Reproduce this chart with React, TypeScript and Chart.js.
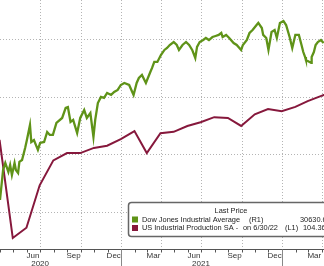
import React, { useEffect, useRef } from "react";
import { Chart, registerables } from "chart.js";

Chart.register(...registerables);

// Dow Jones Industrial Average (right axis, R1)
const djiaDates = [
  "2020-04-01","2020-04-08","2020-04-13","2020-04-20","2020-04-24","2020-04-28","2020-05-04","2020-05-07",
  "2020-05-12","2020-05-15","2020-05-21","2020-05-28","2020-06-01","2020-06-08","2020-06-11","2020-06-17",
  "2020-06-26","2020-07-01","2020-07-10","2020-07-17","2020-07-23","2020-07-30","2020-08-07","2020-08-20",
  "2020-08-28","2020-09-02","2020-09-08","2020-09-14","2020-09-23","2020-09-30","2020-10-09","2020-10-15",
  "2020-10-23","2020-10-30","2020-11-03","2020-11-09","2020-11-16","2020-11-23","2020-11-30","2020-12-09",
  "2020-12-16","2020-12-24","2020-12-31","2021-01-08","2021-01-19","2021-01-29","2021-02-05","2021-02-10",
  "2021-02-17","2021-02-26","2021-03-08","2021-03-12","2021-03-17","2021-03-24","2021-04-01","2021-04-09",
  "2021-04-15","2021-04-21","2021-04-30","2021-05-07","2021-05-12","2021-05-20","2021-05-28","2021-06-04",
  "2021-06-11","2021-06-18","2021-06-22","2021-06-28","2021-07-06","2021-07-12","2021-07-19","2021-07-27",
  "2021-08-03","2021-08-10","2021-08-16","2021-08-19","2021-08-27","2021-09-03","2021-09-13","2021-09-20",
  "2021-09-30","2021-10-04","2021-10-13","2021-10-19","2021-10-26","2021-11-04","2021-11-08","2021-11-16",
  "2021-11-19","2021-11-26","2021-12-01","2021-12-08","2021-12-15","2021-12-20","2021-12-27","2022-01-04",
  "2022-01-10","2022-01-18","2022-01-24","2022-01-31","2022-02-08","2022-02-14","2022-02-18","2022-02-22",
  "2022-02-24","2022-03-08","2022-03-09","2022-03-14","2022-03-18","2022-03-23","2022-03-30","2022-04-05",
];
const djiaValues = [
  21040,23640,24250,23470,24080,23210,24250,23640,
  23380,24340,24510,25550,26240,27540,26070,26240,
  25380,25980,26070,26940,26680,26680,27720,28150,
  29020,29100,27800,27980,26850,28150,28840,28150,
  28580,26500,27980,29450,29970,29890,30320,30150,
  30410,30580,31010,31190,31010,30150,31190,31620,
  31880,31190,32140,32490,33010,33010,33610,34050,
  34220,34480,34740,34480,34050,34480,34740,34480,
  34050,33350,34310,34740,34910,35090,34910,35170,
  35260,35350,35520,35170,35350,35090,34650,34480,
  34050,34480,34910,35520,35780,36210,36390,35950,
  35350,35090,34050,35610,35780,35090,36390,36560,
  36210,35170,34220,35350,35350,34480,33870,33440,
  33180,32920,33440,33870,34480,34740,34910,34650,
];

// US Industrial Production SA (left axis, L1), monthly
const ipDates = [
  "2020-03-31","2020-04-30","2020-05-31","2020-06-30","2020-07-31","2020-08-31","2020-09-30","2020-10-31",
  "2020-11-30","2020-12-31","2021-01-31","2021-02-28","2021-03-31","2021-04-30","2021-05-31","2021-06-30",
  "2021-07-31","2021-08-31","2021-09-30","2021-10-31","2021-11-30","2021-12-31","2022-01-31","2022-02-28",
  "2022-03-31","2022-04-30",
];
const ipValues = [
  97.9,84.5,85.9,91.7,95.1,96.1,96.1,96.8,
  97.1,98.0,99.1,96.1,98.8,99.0,99.8,100.3,
  101.0,100.9,99.8,101.4,102.1,101.8,102.4,103.2,
  103.9,104.6,
];

// Axis labels / grid
const monthLabels = ["Jun","Sep","Dec","Mar","Jun","Sep","Dec","Mar"];
const monthLabelDates = ["2020-06-15","2020-09-15","2020-12-15","2021-03-15","2021-06-15","2021-09-15","2021-12-15","2022-03-15"];
const yearLabels = ["2020","2021"];
const yearLabelDates = ["2020-07-01","2021-07-01"];
const yearBoundaryDates = ["2021-01-01","2022-01-01"];
const gridDates = ["2020-07-01","2020-10-01","2021-01-01","2021-04-01","2021-07-01","2021-10-01","2022-01-01","2022-04-01"];
const djiaGrid = [20000, 25000, 30000, 35000];

const legendTitle = "Last Price";
const legendNames = ["Dow Jones Industrial Average", "US Industrial Production SA -"];
const legendDates = ["", "on 6/30/22"];
const legendAxes = ["(R1)", "(L1)"];
const legendValues = ["30630.63", "104.36"];

const GREEN = "#5f9318";
const RED = "#86183c";
const BASE = Date.UTC(2020, 3, 1);
const toDay = (s: string) => {
  const [y, m, d] = s.split("-").map(Number);
  return (Date.UTC(y, m - 1, d) - BASE) / 86400000;
};
const FONT = '7.4px "Liberation Sans", Arial, sans-serif';
const AXIS_FONT = '8px "Liberation Sans", Arial, sans-serif';

const bbgPlugin = {
  id: "bbg",
  beforeDatasetsDraw(chart: any) {
    const { ctx, chartArea, scales } = chart;
    const x = scales.x, yR = scales.yR;
    ctx.save();
    ctx.strokeStyle = "#b4b4b4";
    ctx.lineWidth = 1;
    ctx.setLineDash([1, 2]);
    djiaGrid.forEach((v) => {
      const py = Math.round(yR.getPixelForValue(v)) + 0.5;
      ctx.beginPath();
      ctx.moveTo(chartArea.left, py);
      ctx.lineTo(chartArea.right, py);
      ctx.stroke();
    });
    gridDates.forEach((d) => {
      const px = Math.round(x.getPixelForValue(toDay(d))) + 0.5;
      ctx.beginPath();
      ctx.moveTo(px, chartArea.top);
      ctx.lineTo(px, chartArea.bottom);
      ctx.stroke();
    });
    ctx.restore();
  },
  afterDraw(chart: any) {
    const { ctx, chartArea, scales } = chart;
    const x = scales.x;
    const axisY = Math.round(chartArea.bottom) + 0.5;
    ctx.save();
    ctx.strokeStyle = "#555";
    ctx.lineWidth = 1;
    ctx.beginPath();
    ctx.moveTo(0, axisY);
    ctx.lineTo(chart.width, axisY);
    ctx.stroke();
    for (let y = 2020; y <= 2022; y++) {
      for (let m = 1; m <= 12; m++) {
        const d = (Date.UTC(y, m - 1, 1) - BASE) / 86400000;
        if (d < x.min || d > x.max) continue;
        const px = Math.round(x.getPixelForValue(d)) + 0.5;
        ctx.beginPath();
        ctx.moveTo(px, axisY);
        ctx.lineTo(px, axisY + 3);
        ctx.stroke();
      }
    }
    ctx.strokeStyle = "#888";
    yearBoundaryDates.forEach((d) => {
      const px = Math.round(x.getPixelForValue(toDay(d))) + 0.5;
      ctx.beginPath();
      ctx.moveTo(px, axisY);
      ctx.lineTo(px, chart.height);
      ctx.stroke();
    });
    ctx.fillStyle = "#333";
    ctx.font = AXIS_FONT;
    ctx.textAlign = "center";
    ctx.textBaseline = "middle";
    monthLabels.forEach((l, i) => {
      ctx.fillText(l, x.getPixelForValue(toDay(monthLabelDates[i])), axisY + 6.5);
    });
    yearLabels.forEach((l, i) => {
      ctx.fillText(l, x.getPixelForValue(toDay(yearLabelDates[i])), axisY + 14.5);
    });
    // legend box
    const bx = 128.5, by = 202.5, bw = 210, bh = 34;
    ctx.fillStyle = "#fff";
    ctx.strokeStyle = "#666";
    ctx.lineWidth = 1.5;
    ctx.beginPath();
    ctx.roundRect(bx, by, bw, bh, 3);
    ctx.fill();
    ctx.stroke();
    ctx.font = FONT;
    ctx.fillStyle = "#222";
    ctx.textAlign = "center";
    ctx.fillText(legendTitle, 231, 210.5);
    const rows = [219.5, 228];
    const colors = [GREEN, RED];
    const axisX = [249, 285];
    const valX = [300, 303];
    rows.forEach((ry, i) => {
      ctx.fillStyle = colors[i];
      ctx.fillRect(132, ry - 3, 6, 6);
      ctx.fillStyle = "#222";
      ctx.textAlign = "left";
      ctx.fillText(legendNames[i], 142, ry);
      if (legendDates[i]) ctx.fillText(legendDates[i], 243, ry);
      ctx.fillText(legendAxes[i], axisX[i], ry);
      ctx.fillText(legendValues[i], valX[i], ry);
    });
    ctx.restore();
  },
};

export default function App() {
  const ref = useRef<HTMLCanvasElement>(null);
  useEffect(() => {
    document.body.style.margin = "0";
    const chart = new Chart(ref.current as HTMLCanvasElement, {
      type: "line",
      data: {
        datasets: [
          {
            label: "Dow Jones Industrial Average",
            data: djiaDates.map((d, i) => ({ x: toDay(d), y: djiaValues[i] })),
            yAxisID: "yR",
            borderColor: GREEN,
            borderWidth: 2.3,
            pointRadius: 0,
            tension: 0,
          },
          {
            label: "US Industrial Production SA",
            data: ipDates.map((d, i) => ({ x: toDay(d), y: ipValues[i] })),
            yAxisID: "yL",
            borderColor: RED,
            borderWidth: 2,
            pointRadius: 0,
            tension: 0,
          },
        ],
      },
      options: {
        responsive: false,
        animation: false,
        layout: { padding: { left: 0, right: 0, top: 0, bottom: 17 } },
        plugins: { legend: { display: false }, tooltip: { enabled: false } },
        scales: {
          x: { type: "linear", display: false, min: 0, max: 735 },
          yL: { type: "linear", display: false, position: "left", min: 83, max: 117 },
          yR: { type: "linear", display: false, position: "right", min: 16790, max: 38380 },
        },
      },
      plugins: [bbgPlugin],
    });
    return () => chart.destroy();
  }, []);
  return <canvas ref={ref} width={324} height={266} style={{ display: "block" }} />;
}
